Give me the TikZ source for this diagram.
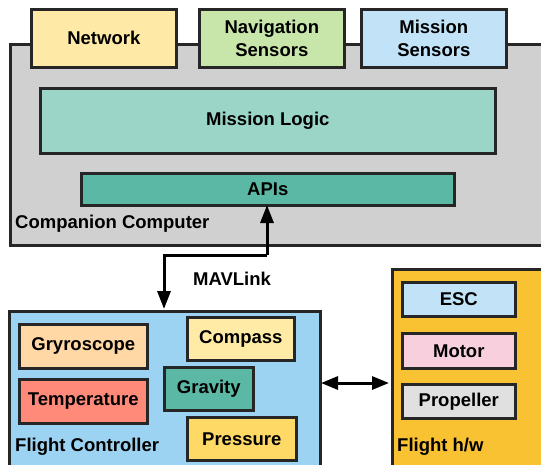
\documentclass[tikz,border=0pt]{standalone}
\usepackage{fontspec}
\setmainfont{Liberation Sans}
\usetikzlibrary{arrows.meta}
\definecolor{cgray}{HTML}{D0D0D0}
\definecolor{cnet}{HTML}{FFE9A6}
\definecolor{cnav}{HTML}{C8E6AA}
\definecolor{cmis}{HTML}{C2E3F7}
\definecolor{clogic}{HTML}{9AD5C8}
\definecolor{capi}{HTML}{5BB8A4}
\definecolor{cfc}{HTML}{9DD3F2}
\definecolor{cgyro}{HTML}{FFD8A6}
\definecolor{ctemp}{HTML}{FF8A7A}
\definecolor{ccomp}{HTML}{FFEBA6}
\definecolor{cpress}{HTML}{FFD966}
\definecolor{chw}{HTML}{F9C233}
\definecolor{cmotor}{HTML}{F8D0DD}
\definecolor{cprop}{HTML}{E0E0E0}
\tikzset{
  box/.style={draw=black!85, line width=2.6pt, font=\fontsize{18.5}{23}\selectfont\bfseries, align=center},
  lbl/.style={font=\fontsize{18.5}{23}\selectfont\bfseries, anchor=west, inner sep=0pt},
  arr/.style={line width=3pt, -{Triangle[length=18pt,width=13pt]}},
  darr/.style={line width=3pt, {Triangle[length=17pt,width=13pt]}-{Triangle[length=17pt,width=13pt]}}
}
\begin{document}
\begin{tikzpicture}[x=1pt,y=-1pt]
\useasboundingbox (0,0) rectangle (541,464);
\clip (0,0) rectangle (541,464);
% Companion computer
\node[box, fill=cgray, minimum width=545pt, minimum height=201pt, anchor=north west, inner sep=0pt] (cc) at (9,43) {};
\node[box, fill=cnet, minimum width=145pt, minimum height=58pt, anchor=north west] (net) at (30,8) {Network};
\node[box, fill=cnav, minimum width=145pt, minimum height=58pt, anchor=north west] (nav) at (198,8) {Navigation\\Sensors};
\node[box, fill=cmis, minimum width=145pt, minimum height=58pt, anchor=north west] (mis) at (360,8) {Mission\\Sensors};
\node[box, fill=clogic, minimum width=455pt, minimum height=65pt, anchor=north west] (logic) at (39,87) {Mission Logic};
\node[box, fill=capi, minimum width=373pt, minimum height=32pt, anchor=north west, inner sep=0pt] (api) at (80,172) {APIs};
\node[lbl] (cclbl) at (15,224) {Companion Computer};
% Flight controller
\node[box, fill=cfc, minimum width=311pt, minimum height=170pt, anchor=north west] (fc) at (8,310) {};
\node[box, fill=cgyro, minimum width=128pt, minimum height=44pt, anchor=north west] (gyro) at (18,323) {Gryroscope};
\node[box, fill=ctemp, minimum width=128pt, minimum height=44pt, anchor=north west] (temp) at (18,378) {Temperature};
\node[box, fill=ccomp, minimum width=107pt, minimum height=43pt, anchor=north west] (comp) at (186,316) {Compass};
\node[box, fill=capi, minimum width=89pt, minimum height=43pt, anchor=north west] (grav) at (163,366) {Gravity};
\node[box, fill=cpress, minimum width=109pt, minimum height=43pt, anchor=north west] (press) at (186,416) {Pressure};
\node[lbl] (fclbl) at (15,447) {Flight Controller};
% Flight h/w
\node[box, fill=chw, minimum width=160pt, minimum height=210pt, anchor=north west] (hw) at (391,268) {};
\node[box, fill=cmis, minimum width=113pt, minimum height=34pt, anchor=north west, inner sep=0pt] (esc) at (401,281) {ESC};
\node[box, fill=cmotor, minimum width=113pt, minimum height=35pt, anchor=north west, inner sep=0pt] (motor) at (401,332) {Motor};
\node[box, fill=cprop, minimum width=113pt, minimum height=34pt, anchor=north west, inner sep=0pt] (prop) at (401,383) {Propeller};
\node[lbl] (hwlbl) at (397,447) {Flight h/w};
% connectors
\coordinate (bend1) at (267,255);
\coordinate (bend2) at (164,255);
\coordinate (apib) at (267,205);
\coordinate (fct) at (164,309);
\draw[arr] (bend1) -- (apib);
\draw[arr] (bend1) -- (bend2) -- (fct);
\node[font=\fontsize{18.5}{23}\selectfont\bfseries] (mav) at (232,279) {MAVLink};
\coordinate (fcr) at (321,383);
\coordinate (hwl) at (389,383);
\draw[darr] (fcr) -- (hwl);
\end{tikzpicture}
\end{document}
